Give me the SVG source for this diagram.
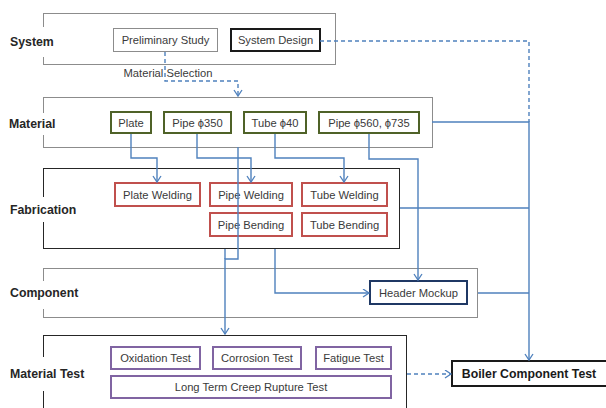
<svg xmlns="http://www.w3.org/2000/svg" width="606" height="408" viewBox="0 0 606 408">
  <style>
    .layer { fill: none; stroke-width: 1; }
    .gray { stroke: #8c8c8c; }
    .dark { stroke: #262626; }
    .gap { fill: #ffffff; stroke: none; }
    .lbl { font-family: "Liberation Sans", Arial, sans-serif; font-weight: bold; font-size: 12.3px; fill: #262626; }
    .txt { font-family: "Liberation Sans", Arial, sans-serif; font-size: 11.2px; fill: #3a3a3a; text-anchor: middle; }
    .mat rect { fill: #ffffff; stroke: #4f6228; stroke-width: 2; }
    .fab rect { fill: #ffffff; stroke: #c0504d; stroke-width: 2; }
    .tst rect { fill: #ffffff; stroke: #8064a2; stroke-width: 2; }
    .conn path { fill: none; stroke: #4f81bd; stroke-width: 1.4; }
    .conn .dash { stroke-dasharray: 4 3; }
  </style>
  <defs>
    <marker id="arrow" markerWidth="10" markerHeight="10" refX="7" refY="4.5" orient="auto" markerUnits="userSpaceOnUse">
      <path d="M1,0.5 L7,4.5 L1,8.5" fill="none" stroke="#4f81bd" stroke-width="1.3"/>
    </marker>
  </defs>

  <!-- swim-lane frames -->
  <g id="lanes">
    <rect class="layer gray" x="43.5" y="13.5" width="292" height="51"/>
    <rect class="layer gray" x="43.5" y="97.5" width="389" height="50"/>
    <rect class="layer dark" x="43.5" y="168.5" width="356" height="80"/>
    <rect class="layer gray" x="43.5" y="268.5" width="434" height="49"/>
    <rect class="layer dark" x="43.5" y="335.5" width="363" height="80"/>
    <!-- lane captions break the left frame edge -->
    <rect class="gap" x="40" y="27" width="8" height="30"/>
    <rect class="gap" x="40" y="113" width="8" height="22"/>
    <rect class="gap" x="40" y="197" width="8" height="25"/>
    <rect class="gap" x="40" y="281" width="8" height="28"/>
    <rect class="gap" x="40" y="357" width="8" height="34"/>
    <text class="lbl" x="10" y="46">System</text>
    <text class="lbl" x="9" y="128">Material</text>
    <text class="lbl" x="10" y="214">Fabrication</text>
    <text class="lbl" x="10" y="297">Component</text>
    <text class="lbl" x="10" y="378">Material Test</text>
  </g>

  <!-- System -->
  <g id="preliminary-study">
    <rect x="113.5" y="28.5" width="104" height="23" fill="#ffffff" stroke="#8c8c8c" stroke-width="1"/>
    <text class="txt" x="165.5" y="44">Preliminary Study</text>
  </g>
  <g id="system-design">
    <rect x="231" y="29" width="89" height="22" fill="#ffffff" stroke="#1a1a1a" stroke-width="2"/>
    <text class="txt" x="275.5" y="44">System Design</text>
  </g>

  <!-- Material -->
  <g id="plate" class="mat">
    <rect x="111" y="112" width="40" height="21"/>
    <text class="txt" x="131" y="126.5">Plate</text>
  </g>
  <g id="pipe-350" class="mat">
    <rect x="164" y="112" width="67" height="21"/>
    <text class="txt" x="197.5" y="126.5">Pipe ϕ350</text>
  </g>
  <g id="tube-40" class="mat">
    <rect x="244" y="112" width="62" height="21"/>
    <text class="txt" x="275" y="126.5">Tube ϕ40</text>
  </g>
  <g id="pipe-560-735" class="mat">
    <rect x="319" y="112" width="100" height="21"/>
    <text class="txt" x="369" y="126.5">Pipe ϕ560, ϕ735</text>
  </g>

  <!-- Fabrication -->
  <g id="plate-welding" class="fab">
    <rect x="115" y="183" width="85" height="23"/>
    <text class="txt" x="157.5" y="198.5">Plate Welding</text>
  </g>
  <g id="pipe-welding" class="fab">
    <rect x="210" y="183" width="82" height="23"/>
    <text class="txt" x="251" y="198.5">Pipe Welding</text>
  </g>
  <g id="pipe-bending" class="fab">
    <rect x="210" y="213" width="82" height="23"/>
    <text class="txt" x="251" y="228.5">Pipe Bending</text>
  </g>
  <g id="tube-welding" class="fab">
    <rect x="302" y="183" width="85" height="23"/>
    <text class="txt" x="344.5" y="198.5">Tube Welding</text>
  </g>
  <g id="tube-bending" class="fab">
    <rect x="302" y="213" width="85" height="23"/>
    <text class="txt" x="344.5" y="228.5">Tube Bending</text>
  </g>

  <!-- Component -->
  <g id="header-mockup">
    <rect x="370" y="281" width="97" height="23" fill="#ffffff" stroke="#1f3864" stroke-width="2"/>
    <text class="txt" x="418.5" y="296.5">Header Mockup</text>
  </g>

  <!-- Material Test -->
  <g id="oxidation-test" class="tst">
    <rect x="111" y="347" width="89" height="22"/>
    <text class="txt" x="155.5" y="362">Oxidation Test</text>
  </g>
  <g id="corrosion-test" class="tst">
    <rect x="213" y="347" width="88" height="22"/>
    <text class="txt" x="257" y="362">Corrosion Test</text>
  </g>
  <g id="fatigue-test" class="tst">
    <rect x="316" y="347" width="75" height="22"/>
    <text class="txt" x="353.5" y="362">Fatigue Test</text>
  </g>
  <g id="creep-rupture-test" class="tst">
    <rect x="111" y="376" width="280" height="22"/>
    <text class="txt" x="251" y="391">Long Term Creep Rupture Test</text>
  </g>

  <g id="boiler-component-test">
    <rect x="452" y="361" width="155" height="25" fill="#ffffff" stroke="#1a1a1a" stroke-width="2"/>
    <text x="529" y="378" font-family="Liberation Sans, Arial, sans-serif" font-weight="bold" font-size="12.3px" fill="#1a1a1a" text-anchor="middle">Boiler Component Test</text>
  </g>

  <!-- connectors -->
  <g id="connectors" class="conn">
    <path class="dash" d="M320,41 H529 V122"/>
    <path class="dash" d="M165,52 V81 H238 V96" marker-end="url(#arrow)"/>
    <path d="M432,122 H529 V360" marker-end="url(#arrow)"/>
    <path d="M400,208 H529"/>
    <path d="M478,293 H529"/>
    <path d="M131,134 V158 H157 V182" marker-end="url(#arrow)"/>
    <path d="M197,134 V158 H251 V182" marker-end="url(#arrow)"/>
    <path d="M275,134 V158 H344 V182" marker-end="url(#arrow)"/>
    <path d="M369,134 V159 H418 V280" marker-end="url(#arrow)"/>
    <path d="M238,147 V259 H225 V334" marker-end="url(#arrow)"/>
    <path d="M225,249 V259"/>
    <path d="M275,249 V293 H369" marker-end="url(#arrow)"/>
    <path class="dash" d="M407,374 H451" marker-end="url(#arrow)"/>
  </g>
  <text class="txt" x="168" y="77">Material Selection</text>
</svg>
